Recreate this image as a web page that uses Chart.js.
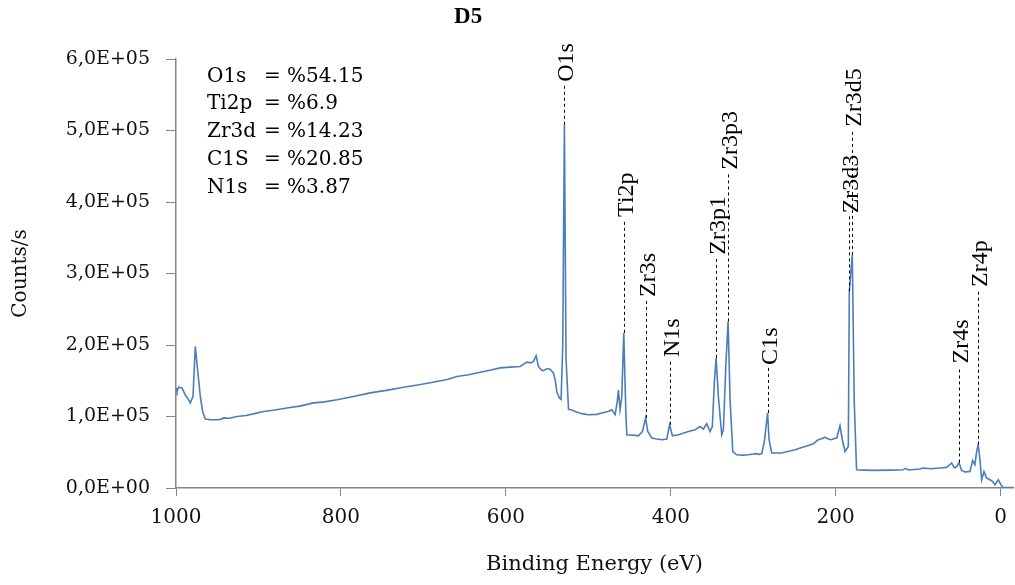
<!DOCTYPE html>
<html>
<head>
<meta charset="utf-8">
<title>D5</title>
<script src="https://cdn.jsdelivr.net/npm/chart.js@4.4.1/dist/chart.umd.min.js"></script>
<style>
  html, body { margin: 0; padding: 0; background: #fff; }
  #wrap { width: 1015px; height: 585px; }
</style>
</head>
<body>
<div id="wrap"><canvas id="chart" width="1015" height="585"></canvas></div>
<script>
// survey spectrum, binding energy (eV) and counts/s
let energies = [
  1000, 998.8, 996.8, 992.7, 988.7, 985, 982.7, 979.4, 976.6, 973.8, 970.5, 967.7,
  964.5, 958, 950.3, 946, 942.3, 935, 926, 915, 905, 893.8, 880, 865.5, 850,
  833.2, 820, 804.8, 785, 764.5, 745, 724.1, 705, 683.6, 670, 659.4, 645, 631.2,
  618, 606.9, 595, 582.7, 574.6, 570, 566.5, 563.3, 560.5, 557, 554.4, 550,
  546.3, 542.4, 540, 538.3, 535.2, 533, 531, 529, 527, 524, 520, 516, 508,
  499.8, 490, 483.6, 476, 471.5, 467.5, 465, 463.5, 461.5, 459.4, 457, 454.5,
  453.3, 446, 439.3, 434.4, 430.5, 427.9, 423, 417, 410.9, 404.8, 401.5, 398,
  390.7, 384, 378.6, 370.5, 364.5, 360.5, 356.4, 352.4, 349.6, 347.2, 345,
  342.3, 338.2, 336.2, 333.3, 330.5, 328.1, 324.8, 320, 312, 305.9, 300, 297.8,
  293, 289.7, 286.5, 282.6, 280.8, 277.6, 272, 265.5, 257, 249.3, 241, 233.2,
  227, 221.1, 217, 213, 209, 204.9, 201, 198.8, 194.8, 192, 188.7, 184.7,
  183.5, 179.9, 177.5, 174.7, 165, 154.5, 135, 118.1, 115.2, 112, 105, 97.8,
  93.8, 85, 73.6, 65.5, 59.4, 56.2, 53.3, 50.5, 47.3, 43.3, 37.2, 33.9, 31.2,
  29.1, 27.2, 25.1, 23, 20.2, 17, 13, 9.7, 6.9, 2.9, -0.4, -3.2, -15
];
let counts = [
  140000, 135000, 141000, 140000, 130000, 124000, 119000, 128000, 198000, 165000, 128000, 107000,
  96500, 95500, 95500, 96000, 98000, 97500, 100000, 101500, 104000, 107000, 109000, 112000, 114500,
  119000, 120500, 123500, 128000, 133000, 136500, 141000, 144500, 149000, 152000, 156000, 158500, 162000,
  165000, 168000, 169000, 170000, 176000, 175000, 177000, 185000, 170000, 165000, 164000, 167000,
  166000, 161000, 150000, 135000, 126000, 124000, 200000, 508000, 180000, 110000, 109000, 107000, 104000,
  102500, 103000, 105000, 107000, 109500, 102500, 120000, 137000, 109500, 128000, 217000, 105000,
  74500, 74000, 73000, 79000, 98000, 79000, 70000, 68500, 67500, 68500, 88500, 73000,
  74500, 77000, 79000, 81500, 86000, 82500, 90000, 79000, 86000, 147000, 182000,
  128000, 74500, 81500, 170000, 233000, 123500, 51000, 46500, 46000, 46500, 47500, 48000,
  47000, 48000, 65000, 105000, 67500, 49000, 49000, 49000, 51500, 53500, 56500, 59500,
  62000, 67500, 69000, 71000, 68500, 67500, 69500, 70000, 87000, 67500, 51000, 58000,
  275000, 326000, 120000, 25500, 25000, 24600, 25000, 25500, 27400, 25200, 25800, 26500,
  28000, 27000, 28000, 28800, 35000, 28000, 30000, 35800, 24600, 22400, 23200, 38600, 32600,
  51000, 60500, 39600, 11600, 23200, 14000, 11600, 9200, 4600, 11600, 4600, 500, 500
];

// peak assignments: dashed leader from the peak up to a rotated label
let peakNames = ["O1s", "Ti2p", "Zr3s", "N1s", "Zr3p1", "Zr3p3", "C1s", "Zr3d3", "Zr3d5", "Zr4s", "Zr4p"];
let peakEnergies = [529, 457, 430.5, 401.5, 345, 330.5, 282.6, 183.5, 179.9, 50.5, 27.2];
let peakCounts = [508000, 217000, 98000, 88500, 182000, 233000, 105000, 275000, 326000, 35800, 60500];
let labelCounts = [564000, 375000, 263000, 179000, 322000, 441000, 168000, 380000, 501000, 170000, 277000];

// atomic percentages
let statNames = ["O1s", "Ti2p", "Zr3d", "C1S", "N1s"];
let statValues = ["54.15", "6.9", "14.23", "20.85", "3.87"];

let xTicks = [1000, 800, 600, 400, 200, 0];
let yMax = 600000;

let axisColor = "#868686";
let lineColor = "#4a7ebb";
let serif = '"DejaVu Serif", serif';
let times = '"Liberation Serif", "Times New Roman", serif';

function sci(v) {
  if (v === 0) {
    return "0,0E+00";
  }
  let e = Math.floor(Math.log10(v));
  let m = (v / Math.pow(10, e)).toFixed(1).replace(".", ",");
  return m + "E+" + String(e).padStart(2, "0");
}

let annotations = {
  id: "annotations",
  afterDatasetsDraw(chart) {
    let ctx = chart.ctx;
    let x = chart.scales.x;
    let y = chart.scales.y;
    let area = chart.chartArea;

    ctx.save();
    ctx.strokeStyle = "#000";
    ctx.fillStyle = "#000";
    ctx.lineWidth = 1;
    ctx.font = "24px " + times;
    ctx.textAlign = "left";
    ctx.textBaseline = "alphabetic";
    for (let i = 0; i < peakNames.length; i++) {
      let px = Math.round(x.getPixelForValue(peakEnergies[i])) + 0.5;
      let y0 = y.getPixelForValue(peakCounts[i]);
      let y1 = y.getPixelForValue(labelCounts[i]);
      ctx.setLineDash([3, 3]);
      ctx.beginPath();
      ctx.moveTo(px, y0);
      ctx.lineTo(px, y1);
      ctx.stroke();
      ctx.setLineDash([]);
      ctx.save();
      ctx.translate(px, y1 - 3);
      ctx.rotate(-Math.PI / 2);
      ctx.fillText(peakNames[i], 0, 8);
      ctx.restore();
    }

    // composition block, top left of the plot
    ctx.font = "20px " + serif;
    for (let i = 0; i < statNames.length; i++) {
      let by = area.top + 22.5 + i * 27.8;
      ctx.fillText(statNames[i], area.left + 31, by);
      ctx.fillText("= %" + statValues[i], area.left + 88, by);
    }

    // sample name
    ctx.font = "bold 23px " + times;
    ctx.textAlign = "center";
    ctx.fillText("D5", area.left + (area.right - area.left) * 0.349, 23);
    ctx.restore();
  },
};

let points = energies.map((e, i) => ({ x: e, y: counts[i] }));

let config = {
  type: "line",
  data: {
    datasets: [
      {
        label: "D5",
        data: points,
        borderColor: lineColor,
        backgroundColor: lineColor,
        borderWidth: 1.6,
        pointRadius: 0,
        tension: 0,
        fill: false,
      },
    ],
  },
  options: {
    responsive: false,
    animation: false,
    layout: {
      padding: { top: 59, right: 2, left: 0, bottom: 0 },
    },
    plugins: {
      legend: { display: false },
      tooltip: { enabled: false },
      title: { display: false },
    },
    scales: {
      x: {
        type: "linear",
        reverse: true,
        min: -15,
        max: 1000,
        afterBuildTicks: (scale) => {
          scale.ticks = xTicks.map((v) => ({ value: v }));
        },
        afterFit: (scale) => {
          scale.height = 97;
        },
        ticks: {
          color: "#111",
          // tall line box pushes the labels down without widening the side padding
          font: { family: serif, size: 20, lineHeight: 2.2 },
          padding: 0,
          maxRotation: 0,
          callback: (v) => String(v),
        },
        grid: {
          drawOnChartArea: false,
          drawTicks: true,
          tickLength: 8,
          color: axisColor,
        },
        border: { display: true, color: axisColor, width: 1.5 },
        title: {
          display: true,
          text: "Binding Energy (eV)",
          color: "#111",
          font: { family: serif, size: 21 },
          padding: { top: 0, bottom: 8 },
        },
      },
      y: {
        min: 0,
        max: yMax,
        afterFit: (scale) => {
          scale.width = 176;
        },
        ticks: {
          stepSize: 100000,
          color: "#111",
          font: { family: serif, size: 19 },
          padding: 16,
          callback: (v) => sci(v),
        },
        grid: {
          drawOnChartArea: false,
          drawTicks: true,
          tickLength: 10,
          color: axisColor,
        },
        border: { display: true, color: axisColor, width: 1.5 },
        title: {
          display: true,
          text: "Counts/s",
          color: "#111",
          font: { family: serif, size: 20 },
          padding: { top: 9, bottom: 0 },
        },
      },
    },
  },
  plugins: [annotations],
};

let chart = new Chart(document.getElementById("chart"), config);
</script>
</body>
</html>
